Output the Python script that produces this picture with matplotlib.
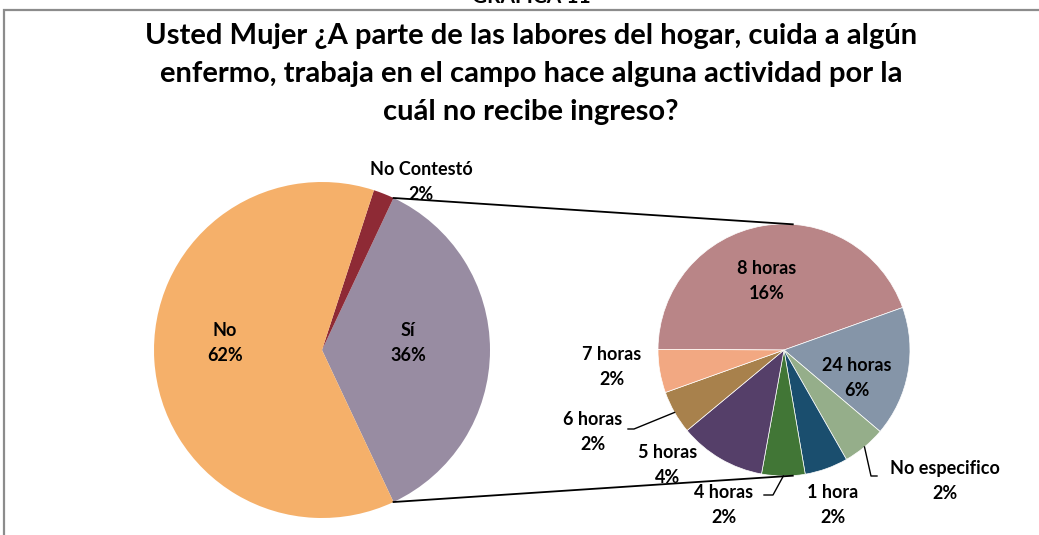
import numpy as np
import matplotlib
matplotlib.use("Agg")
from matplotlib import pyplot as plt
from matplotlib.patches import Rectangle

# main pie
main_labels = ["Sí", "No Contestó", "No"]
main_values = [36, 2, 62]
main_colors = ["#988CA2", "#8E2A35", "#F5B06A"]

# breakdown of "Sí"
sub_labels = ["8 horas", "24 horas", "No especifico", "1 hora",
              "4 horas", "5 horas", "6 horas", "7 horas"]
sub_values = [16, 6, 2, 2, 2, 4, 2, 2]
sub_colors = ["#B98587", "#8595A8", "#95AE8A", "#1A4E6E",
              "#417636", "#553F69", "#A8814C", "#F2A882"]

title = ("Usted Mujer ¿A parte de las labores del hogar, cuida a algún\n"
         "enfermo, trabaja en el campo hace alguna actividad por la\n"
         "cuál no recibe ingreso?")

W, H = 1039, 535
plt.rcParams['font.family'] = ['Lato', 'DejaVu Sans']
fig = plt.figure(figsize=(W / 100, H / 100), dpi=100)
ax = fig.add_axes([0, 0, 1, 1])

# chart border (cut by the image edge on the right and bottom)
fig.patches.append(Rectangle((4 / W, -0.1), 1.2, (H - 10) / H + 0.1,
                             transform=fig.transFigure, fill=False,
                             edgecolor="#8c8c8c", linewidth=1.6))

fig.text(531 / W, 1.006, "GRAFICA 11", ha='center', va='center',
         fontsize=15, fontweight='bold')
ax.text(531, H - 74, title, ha='center', va='center', fontsize=21,
        fontweight='bold', linespacing=1.55)

c1, r1 = (322, H - 350), 168
c2, r2 = (784, H - 350), 126

w1, _ = ax.pie(main_values, colors=main_colors, center=c1, radius=r1,
               startangle=-main_values[0] / 100 * 180, counterclock=True,
               frame=True)
w2, _ = ax.pie(sub_values, colors=sub_colors, center=c2, radius=r2,
               startangle=180 - 0.3, counterclock=False, frame=True,
               wedgeprops=dict(linewidth=0.5, edgecolor='white'))
ax.set_xlim(0, W)
ax.set_ylim(0, H)
ax.set_aspect('equal')
ax.axis('off')

# connector lines between the "Sí" slice and the second pie
si = w1[0]
for th, th2 in [(si.theta2, 86), (si.theta1, -86)]:
    p1 = (c1[0] + r1 * np.cos(np.radians(th)), c1[1] + r1 * np.sin(np.radians(th)))
    p2 = (c2[0] + r2 * np.cos(np.radians(th2)), c2[1] + r2 * np.sin(np.radians(th2)))
    ax.plot([p1[0], p2[0]], [p1[1], p2[1]], color='black', lw=1.3)

fs = 13
kw = dict(ha='center', va='center', fontsize=fs, fontweight='bold', linespacing=1.55)

ax.text(225, H - 343, "No\n62%", **kw)
ax.text(408, H - 343, "Sí\n36%", **kw)
ax.text(421, H - 182, "No Contestó\n2%", **kw)

sub_pos = {"8 horas": (767, 281), "24 horas": (857, 378), "No especifico": (945, 481),
           "1 hora": (833, 505), "4 horas": (724, 505), "5 horas": (668, 465),
           "6 horas": (593, 432), "7 horas": (612, 367)}
for lab, val in zip(sub_labels, sub_values):
    x, y = sub_pos[lab]
    ax.text(x, H - y, f"{lab}\n{val}%", **kw)

# leader lines for the small outside labels
def leader(wedge, end, horiz):
    mid = np.radians((wedge.theta1 + wedge.theta2) / 2)
    sx = c2[0] + r2 * np.cos(mid)
    sy = c2[1] + r2 * np.sin(mid)
    ax.plot([sx, end[0], horiz], [sy, end[1], end[1]], color='black', lw=1)

leader(w2[6], (634, H - 429), 628)
leader(w2[4], (773, H - 495), 764)
leader(w2[2], (871, H - 476), 877)

fig.savefig("out.png", dpi=100)
